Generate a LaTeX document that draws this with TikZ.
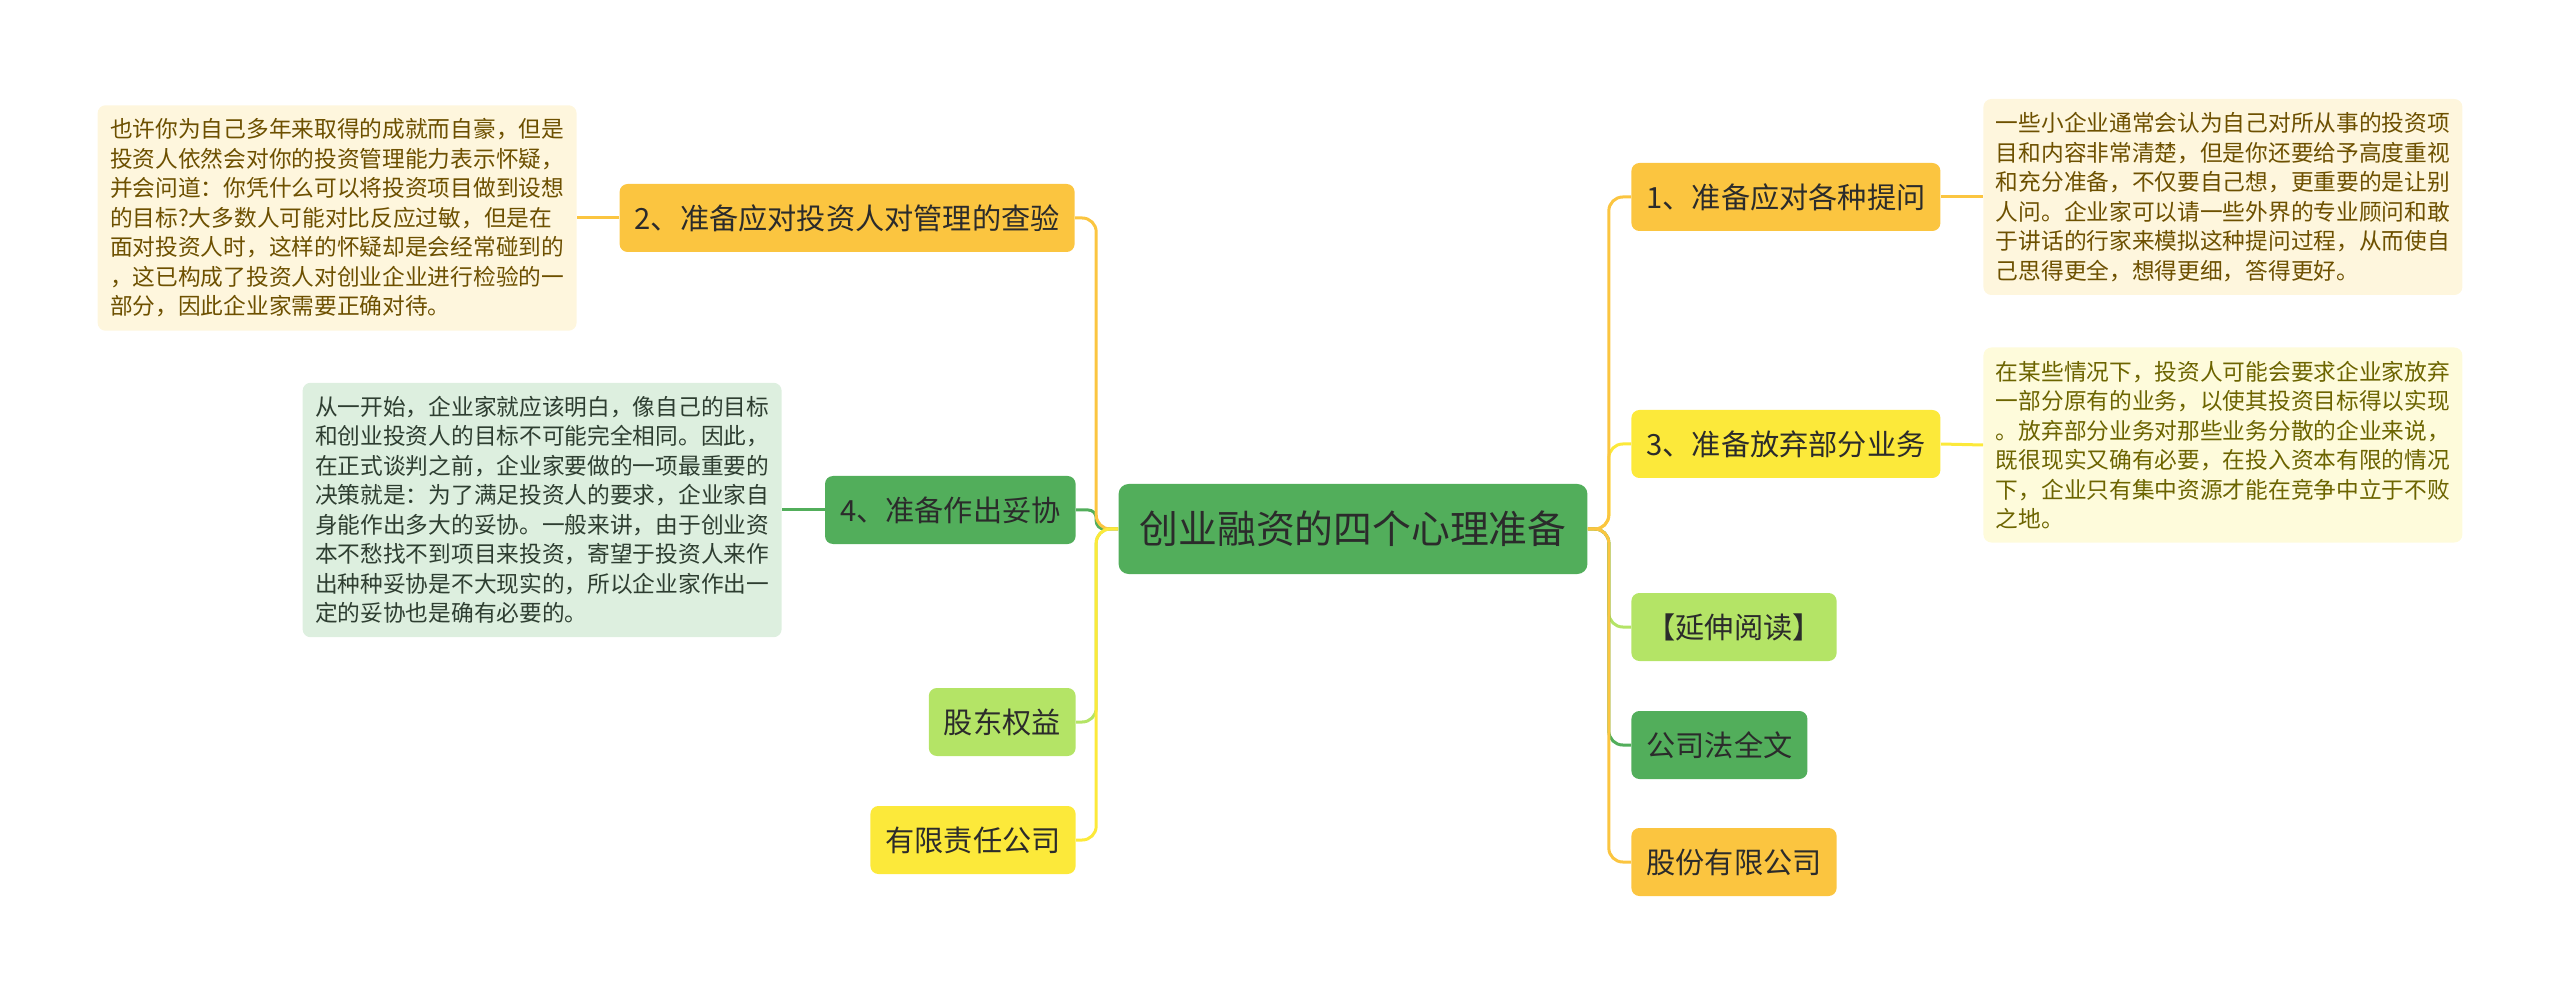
\documentclass[tikz,border=0pt]{standalone}
\usepackage{fontspec}
\setmainfont{Noto Sans CJK SC}
\definecolor{orangebox}{HTML}{FBC540}
\definecolor{yellowbox}{HTML}{FCE93A}
\definecolor{greenbox}{HTML}{52AE5B}
\definecolor{limebox}{HTML}{B4E466}
\definecolor{topictext}{HTML}{2B2B2B}
\definecolor{notetan}{HTML}{FEF6DD}
\definecolor{notetantext}{HTML}{6D5000}
\definecolor{notegreen}{HTML}{DDEFDF}
\definecolor{notegreentext}{HTML}{2E3E31}
\definecolor{noteyellow}{HTML}{FEFBDB}
\definecolor{noteyellowtext}{HTML}{6C6400}
\begin{document}
\begin{tikzpicture}[x=0.5pt,y=-0.5pt,
  topic/.style={rounded corners=4pt,inner xsep=7.5pt,inner ysep=0pt,minimum height=34pt,text=topictext,font=\fontsize{14.6}{17}\selectfont},
  rootbox/.style={rounded corners=5pt,inner xsep=10.5pt,inner ysep=0pt,minimum height=45pt,fill=greenbox,text=topictext,font=\fontsize{19.4}{23}\selectfont},
  note/.style={rounded corners=4pt,inner xsep=6.25pt,inner ysep=6.7pt,align=left,font=\fontsize{11.35}{14.75}\selectfont},
  link/.style={line width=1.5pt,rounded corners=7pt}]
\useasboundingbox (0,0) rectangle (2560,994);

% centre
\node[rootbox] (root) at (1353,529) {创业融资的四个心理准备};

% left side
\node[topic,fill=orangebox,anchor=east] (prep2) at (1075,218) {2、准备应对投资人对管理的查验};
\node[topic,fill=greenbox,anchor=east] (prep4) at (1076,510) {4、准备作出妥协};
\node[topic,fill=limebox,anchor=east] (equity) at (1076,722) {股东权益};
\node[topic,fill=yellowbox,anchor=east] (llc) at (1076,840) {有限责任公司};

\node[note,fill=notetan,text=notetantext,anchor=east] (note2) at (577,218) {也许你为自己多年来取得的成就而自豪，但是\\投资人依然会对你的投资管理能力表示怀疑，\\并会问道：你凭什么可以将投资项目做到设想\\的目标?大多数人可能对比反应过敏，但是在\\面对投资人时，这样的怀疑却是会经常碰到的\\，这已构成了投资人对创业企业进行检验的一\\部分，因此企业家需要正确对待。};
\node[note,fill=notegreen,text=notegreentext,anchor=east] (note4) at (782,510) {从一开始，企业家就应该明白，像自己的目标\\和创业投资人的目标不可能完全相同。因此，\\在正式谈判之前，企业家要做的一项最重要的\\决策就是：为了满足投资人的要求，企业家自\\身能作出多大的妥协。一般来讲，由于创业资\\本不愁找不到项目来投资，寄望于投资人来作\\出种种妥协是不大现实的，所以企业家作出一\\定的妥协也是确有必要的。};

% right side
\node[topic,fill=orangebox,anchor=west] (prep1) at (1631,197) {1、准备应对各种提问};
\node[topic,fill=yellowbox,anchor=west] (prep3) at (1631,444) {3、准备放弃部分业务};
\node[topic,fill=limebox,anchor=west] (reading) at (1631,627) {【延伸阅读】};
\node[topic,fill=greenbox,anchor=west] (lawtext) at (1631,745) {公司法全文};
\node[topic,fill=orangebox,anchor=west] (joint) at (1631,862) {股份有限公司};

\node[note,fill=notetan,text=notetantext,anchor=west] (note1) at (1983,197) {一些小企业通常会认为自己对所从事的投资项\\目和内容非常清楚，但是你还要给予高度重视\\和充分准备，不仅要自己想，更重要的是让别\\人问。企业家可以请一些外界的专业顾问和敢\\于讲话的行家来模拟这种提问过程，从而使自\\己思得更全，想得更细，答得更好。};
\node[note,fill=noteyellow,text=noteyellowtext,anchor=west] (note3) at (1983,445) {在某些情况下，投资人可能会要求企业家放弃\\一部分原有的业务，以使其投资目标得以实现\\。放弃部分业务对那些业务分散的企业来说，\\既很现实又确有必要，在投入资本有限的情况\\下，企业只有集中资源才能在竞争中立于不败\\之地。};

% links
\draw[link,greenbox,rounded corners=4pt] (root.west) -- ++(-22,0) |- (prep4.east);
\draw[link,limebox] (root.west) -- ++(-22,0) |- (equity.east);
\draw[link,orangebox] (root.west) -- ++(-22,0) |- (prep2.east);
\draw[link,yellowbox] (root.west) -- ++(-22,0) |- (llc.east);

\draw[link,yellowbox] (root.east) -- ++(21,0) |- (prep3.west);
\draw[link,limebox] (root.east) -- ++(21,0) |- (reading.west);
\draw[link,greenbox] (root.east) -- ++(21,0) |- (lawtext.west);
\draw[link,orangebox] (root.east) -- ++(21,0) |- (prep1.west);
\draw[link,orangebox] (root.east) -- ++(21,0) |- (joint.west);

\draw[link,orangebox] (prep2.west) -- (note2.east);
\draw[link,greenbox] (prep4.west) -- (note4.east);
\draw[link,orangebox] (prep1.east) -- (note1.west);
\draw[link,yellowbox] (prep3.east) -- (note3.west);
\end{tikzpicture}
\end{document}
